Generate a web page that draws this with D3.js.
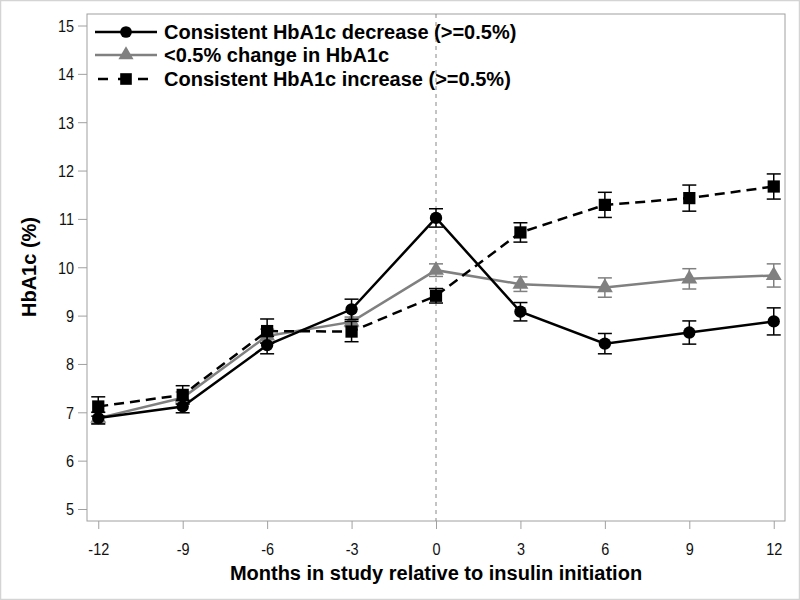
<!DOCTYPE html>
<html><head><meta charset="utf-8">
<script src="https://cdn.jsdelivr.net/npm/d3@7"></script>
<style>body{margin:0;background:#fff}svg{display:block}</style>
</head><body>
<svg id="c" width="800" height="600"></svg>
<script>
const months = [-12,-9,-6,-3,0,3,6,9,12];
const xTicks = [-12,-9,-6,-3,0,3,6,9,12];
const yTicks = [5,6,7,8,9,10,11,12,13,14,15];
const seriesNames = ["Consistent HbA1c decrease (>=0.5%)","<0.5% change in HbA1c","Consistent HbA1c increase (>=0.5%)"];
const decreaseMean = [6.88,7.12,8.39,9.13,11.02,9.08,8.42,8.65,8.88];
const decreaseErr  = [0.12,0.13,0.18,0.21,0.19,0.19,0.21,0.24,0.28];
const stableMean   = [6.88,7.30,8.58,8.87,9.94,9.65,9.58,9.76,9.83];
const stableErr    = [0.12,0.12,0.14,0.10,0.13,0.15,0.20,0.21,0.24];
const increaseMean = [7.12,7.36,8.68,8.67,9.41,10.72,11.29,11.43,11.67];
const increaseErr  = [0.20,0.19,0.25,0.21,0.15,0.20,0.26,0.27,0.26];

const svg = d3.select("#c");
const L=87,R=785,T=14,B=521;
const x = d3.scaleLinear().domain([-12.4,12.4]).range([L,R]);
const y = d3.scaleLinear().domain([5,15]).range([509,25.5]);

svg.append("rect").attr("x",0.5).attr("y",0.5).attr("width",799).attr("height",599)
  .attr("fill","none").attr("stroke","#d4d4d4").attr("stroke-width",1.5);
svg.append("rect").attr("x",L).attr("y",T).attr("width",R-L).attr("height",B-T)
  .attr("fill","none").attr("stroke","#a0a0a0").attr("stroke-width",1);

const font = "'Liberation Sans', Arial, sans-serif";
const fmt = d => String(d);
const yAxis = svg.append("g").attr("transform",`translate(${L},0)`)
  .call(d3.axisLeft(y).tickValues(yTicks).tickSize(9).tickPadding(0).tickFormat(fmt));
const xAxis = svg.append("g").attr("transform",`translate(0,${B})`)
  .call(d3.axisBottom(x).tickValues(xTicks).tickSize(8).tickPadding(0).tickFormat(fmt));
[yAxis,xAxis].forEach(a=>{
  a.select(".domain").remove();
  a.selectAll(".tick line").attr("stroke","#a0a0a0");
  a.selectAll(".tick text").attr("font-family",font).attr("font-size",17).attr("fill","#111");
});
yAxis.selectAll(".tick text").attr("x",0).attr("dy","0.35em").attr("transform","translate(-13,0) scale(0.85,1)");
xAxis.selectAll(".tick text").attr("y",0).attr("dy","0").attr("transform","translate(0,34) scale(0.85,1)");

svg.append("line").attr("x1",x(0)).attr("x2",x(0)).attr("y1",T).attr("y2",B)
  .attr("stroke","#888").attr("stroke-width",1).attr("stroke-dasharray","4,4");

svg.append("text").attr("x",x(0)).attr("y",580).attr("text-anchor","middle")
  .attr("font-family",font).attr("font-weight","bold").attr("font-size",20).attr("fill","#000")
  .text("Months in study relative to insulin initiation");
svg.append("text").attr("transform","translate(36,267) rotate(-90)").attr("text-anchor","middle")
  .attr("font-family",font).attr("font-weight","bold").attr("font-size",20).attr("fill","#000")
  .text("HbA1c (%)");

const series = [
  {name:seriesNames[0], mean:decreaseMean, err:decreaseErr, color:"#000", dash:null, sym:d3.symbolCircle, size:120},
  {name:seriesNames[1], mean:stableMean, err:stableErr, color:"#808080", dash:null, sym:d3.symbolTriangle, size:110},
  {name:seriesNames[2], mean:increaseMean, err:increaseErr, color:"#000", dash:"10,6", sym:d3.symbolSquare, size:150}
];
const line = d3.line().x((d,i)=>x(months[i])).y(d=>y(d));

[1,0,2].forEach(k=>{
  const s = series[k];
  const g = svg.append("g");
  months.forEach((m,i)=>{
    const cx=x(m), hi=y(s.mean[i]+s.err[i]), lo=y(s.mean[i]-s.err[i]);
    g.append("line").attr("x1",cx).attr("x2",cx).attr("y1",hi).attr("y2",lo).attr("stroke",s.color).attr("stroke-width",1.5);
    [hi,lo].forEach(yy=>g.append("line").attr("x1",cx-7).attr("x2",cx+7).attr("y1",yy).attr("y2",yy).attr("stroke",s.color).attr("stroke-width",1.5));
  });
  g.append("path").attr("d",line(s.mean)).attr("fill","none").attr("stroke",s.color)
    .attr("stroke-width",2.5).attr("stroke-dasharray",s.dash);
  g.selectAll("path.m").data(s.mean).enter().append("path").attr("class","m")
    .attr("transform",(d,i)=>`translate(${x(months[i])},${y(d)})`)
    .attr("d",d3.symbol().type(s.sym).size(s.size)).attr("fill",s.color);
});

const legY=[32,55,79];
series.forEach((s,i)=>{
  const g=svg.append("g").attr("transform",`translate(0,${legY[i]})`);
  g.append("line").attr("x1",95).attr("x2",157).attr("y1",0).attr("y2",0)
    .attr("stroke",s.color).attr("stroke-width",2.5).attr("stroke-dasharray",s.dash?"10,10":null).attr("stroke-dashoffset",s.dash?-3:null);
  g.append("path").attr("transform","translate(126,0)").attr("d",d3.symbol().type(s.sym).size(s.size*0.9)).attr("fill",s.color);
  g.append("text").attr("x",164).attr("y",7).attr("font-family",font).attr("font-weight","bold")
    .attr("font-size",20).attr("fill","#000").text(s.name);
});
</script>
</body></html>
